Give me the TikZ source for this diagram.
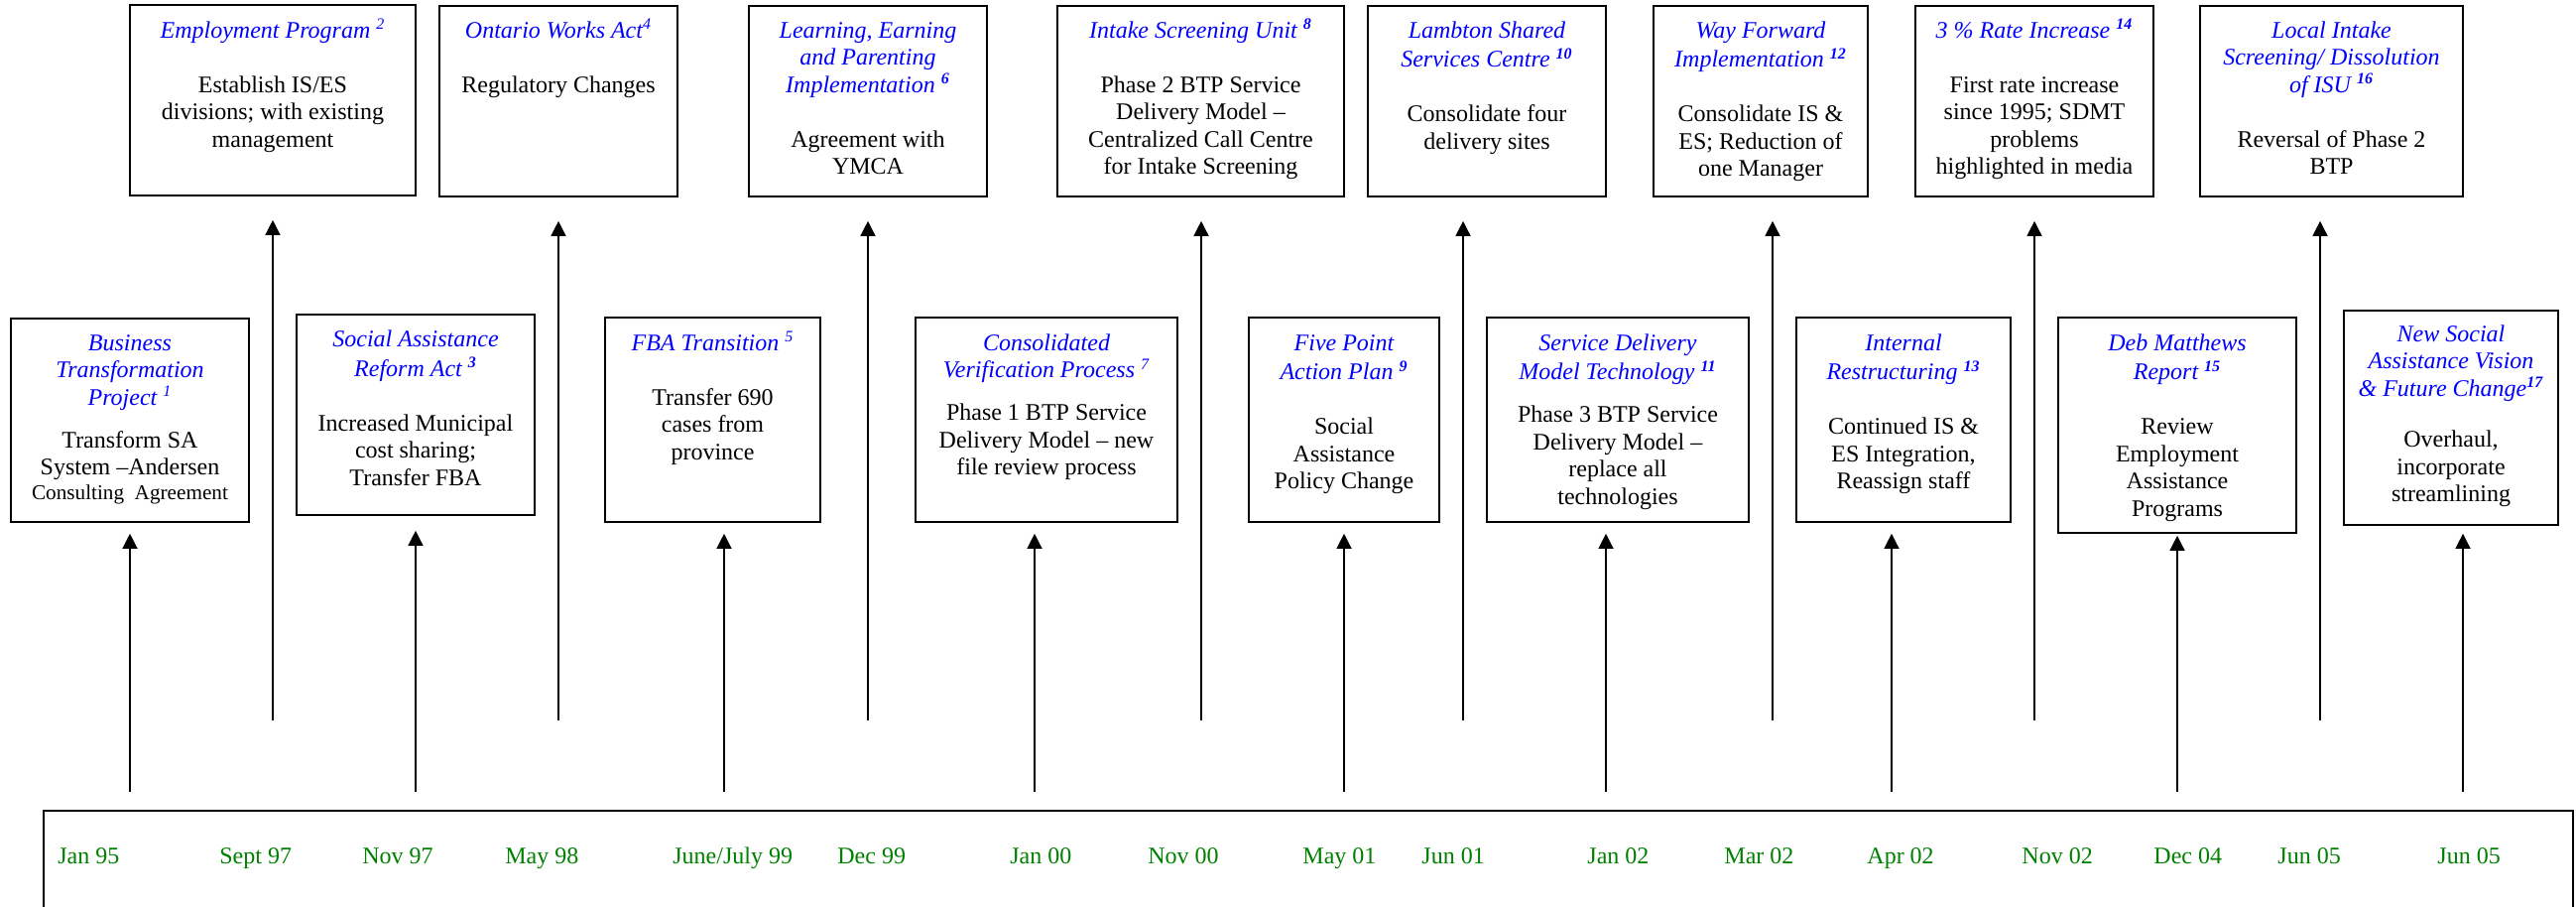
\documentclass[tikz,border=0pt]{standalone}
\usepackage{fontspec}
\setmainfont{Liberation Serif}
\usetikzlibrary{arrows.meta,fit}
\definecolor{ttlblue}{RGB}{0,0,255}
\definecolor{dategreen}{RGB}{0,128,0}
\newcommand\fnn[1]{\textsuperscript{#1}}
\newcommand\fnbb[1]{\textsuperscript{\bfseries #1}}
\newcommand\tl[1]{{\color{ttlblue}\itshape #1}}
\begin{document}
\begin{tikzpicture}[x=0.5pt,y=-0.5pt,
  evbox/.style={draw, line width=0.8pt, inner sep=0pt},
  txt/.style={anchor=north, align=center, inner sep=0pt, font=\fontsize{12}{13.75}\selectfont},
  arr/.style={line width=0.65pt, -{Triangle[length=7.5pt,width=7.5pt]}},
  datelbl/.style={anchor=base west, inner sep=0pt, text=dategreen, font=\fontsize{12}{13.75}\selectfont}]
\useasboundingbox (0,0) rectangle (2597,914);

% ---------- upper boxes ----------
\node[evbox, fit={(131,5) (419,197)}] (u1) {};
\node[evbox, fit={(443,6) (683,198)}] (u2) {};
\node[evbox, fit={(755,6) (995,198)}] (u3) {};
\node[evbox, fit={(1066,6) (1355,198)}] (u4) {};
\node[evbox, fit={(1379,6) (1619,198)}] (u5) {};
\node[evbox, fit={(1667,6) (1883,198)}] (u6) {};
\node[evbox, fit={(1931,6) (2171,198)}] (u7) {};
\node[evbox, fit={(2218,6) (2483,198)}] (u8) {};

\node[txt] (u1t) at (275,18.75) {\strut\tl{Employment Program \fnn{2}}\\[13.75pt]Establish IS/ES\\divisions; with existing\\management};
\node[txt] (u2t) at (563,18.75) {\strut\tl{Ontario Works Act\fnn{4}}\\[13.75pt]Regulatory Changes};
\node[txt] (u3t) at (875,18.75) {\strut\tl{Learning, Earning}\\\tl{and Parenting}\\\tl{Implementation \fnbb{6}}\\[13.75pt]Agreement with\\YMCA};
\node[txt] (u4t) at (1210.5,18.75) {\strut\tl{Intake Screening Unit \fnbb{8}}\\[13.75pt]Phase 2 BTP Service\\Delivery Model --\\Centralized Call Centre\\for Intake Screening};
\node[txt] (u5t) at (1499,18.75) {\strut\tl{Lambton Shared}\\\tl{Services Centre \fnbb{10}}\\[13.75pt]Consolidate four\\delivery sites};
\node[txt] (u6t) at (1775,18.75) {\strut\tl{Way Forward}\\\tl{Implementation \fnbb{12}}\\[13.75pt]Consolidate IS \&\\ES; Reduction of\\one Manager};
\node[txt] (u7t) at (2051,18.75) {\strut\tl{3 \% Rate Increase \fnbb{14}}\\[13.75pt]First rate increase\\since 1995; SDMT\\problems\\highlighted in media};
\node[txt] (u8t) at (2350.5,18.75) {\strut\tl{Local Intake}\\\tl{Screening/ Dissolution}\\\tl{of ISU \fnbb{16}}\\[13.75pt]Reversal of Phase 2\\BTP};

% ---------- lower boxes ----------
\node[evbox, fit={(11,321) (251,526)}] (l1) {};
\node[evbox, fit={(299,317) (539,519)}] (l2) {};
\node[evbox, fit={(610,320) (827,526)}] (l3) {};
\node[evbox, fit={(923,320) (1187,526)}] (l4) {};
\node[evbox, fit={(1259,320) (1451,526)}] (l5) {};
\node[evbox, fit={(1499,320) (1763,526)}] (l6) {};
\node[evbox, fit={(1811,320) (2027,526)}] (l7) {};
\node[evbox, fit={(2075,320) (2315,537)}] (l8) {};
\node[evbox, fit={(2363,313) (2579,529)}] (l9) {};

\node[txt] (l1t) at (131,333.75) {\strut\tl{Business}\\\tl{Transformation}\\\tl{Project \fnn{1}}\\[7.75pt]Transform SA\\System --Andersen\\[-1.25pt]{\fontsize{10.6}{12}\selectfont Consulting\ \ Agreement}};
\node[txt] (l2t) at (419,330.25) {\strut\tl{Social Assistance}\\\tl{Reform Act \fnbb{3}}\\[13.75pt]Increased Municipal\\cost sharing;\\Transfer FBA};
\node[txt] (l3t) at (718.5,333.75) {\strut\tl{FBA Transition \fnn{5}}\\[13.75pt]Transfer 690\\cases from\\province};
\node[txt] (l4t) at (1055,333.75) {\strut\tl{Consolidated}\\\tl{Verification Process \fnn{7}}\\[7.75pt]Phase 1 BTP Service\\Delivery Model -- new\\file review process};
\node[txt] (l5t) at (1355,333.75) {\strut\tl{Five Point}\\\tl{Action Plan \fnbb{9}}\\[13.75pt]Social\\Assistance\\Policy Change};
\node[txt] (l6t) at (1631,333.75) {\strut\tl{Service Delivery}\\\tl{Model Technology \fnbb{11}}\\[7.75pt]Phase 3 BTP Service\\Delivery Model --\\replace all\\technologies};
\node[txt] (l7t) at (1919,333.75) {\strut\tl{Internal}\\\tl{Restructuring \fnbb{13}}\\[13.75pt]Continued IS \&\\ES Integration,\\Reassign staff};
\node[txt] (l8t) at (2195,333.75) {\strut\tl{Deb Matthews}\\\tl{Report \fnbb{15}}\\[13.75pt]Review\\Employment\\Assistance\\Programs};
\node[txt] (l9t) at (2471,324.75) {\strut\tl{New Social}\\\tl{Assistance Vision}\\\tl{\& Future Change\fnbb{17}}\\[12pt]Overhaul,\\incorporate\\streamlining};

% ---------- timeline ----------
\draw[line width=1pt] (44,914) -- (44,817) -- (2594,817) -- (2594,914);
\node[datelbl] (d1) at (58,870) {Jan 95};
\node[datelbl] (d2) at (221,870) {Sept 97};
\node[datelbl] (d3) at (365,870) {Nov 97};
\node[datelbl] (d4) at (509,870) {May 98};
\node[datelbl] (d5) at (678,870) {June/July 99};
\node[datelbl] (d6) at (844,870) {Dec 99};
\node[datelbl] (d7) at (1018,870) {Jan 00};
\node[datelbl] (d8) at (1157,870) {Nov 00};
\node[datelbl] (d9) at (1313,870) {May 01};
\node[datelbl] (d10) at (1433,870) {Jun 01};
\node[datelbl] (d11) at (1600,870) {Jan 02};
\node[datelbl] (d12) at (1738,870) {Mar 02};
\node[datelbl] (d13) at (1882,870) {Apr 02};
\node[datelbl] (d14) at (2038,870) {Nov 02};
\node[datelbl] (d15) at (2171,870) {Dec 04};
\node[datelbl] (d16) at (2296,870) {Jun 05};
\node[datelbl] (d17) at (2457,870) {Jun 05};

% ---------- arrow start points ----------
\coordinate (a1) at (131,798);
\coordinate (a2) at (275,726);
\coordinate (a3) at (419,798);
\coordinate (a4) at (563,726);
\coordinate (a5) at (730,798);
\coordinate (a6) at (875,726);
\coordinate (a7) at (1043,798);
\coordinate (a8) at (1211,726);
\coordinate (a9) at (1355,798);
\coordinate (a10) at (1475,726);
\coordinate (a11) at (1619,798);
\coordinate (a12) at (1787,726);
\coordinate (a13) at (1907,798);
\coordinate (a14) at (2051,726);
\coordinate (a15) at (2195,798);
\coordinate (a16) at (2339,726);
\coordinate (a17) at (2483,798);

% ---------- arrows ----------
\draw[arr, shorten >=5.5pt] (a1) -- (a1 |- l1.south);
\draw[arr, shorten >=12pt] (a2) -- (a2 |- u1.south);
\draw[arr, shorten >=7.5pt] (a3) -- (a3 |- l2.south);
\draw[arr, shorten >=12pt] (a4) -- (a4 |- u2.south);
\draw[arr, shorten >=5.5pt] (a5) -- (a5 |- l3.south);
\draw[arr, shorten >=12pt] (a6) -- (a6 |- u3.south);
\draw[arr, shorten >=5.5pt] (a7) -- (a7 |- l4.south);
\draw[arr, shorten >=12pt] (a8) -- (a8 |- u4.south);
\draw[arr, shorten >=5.5pt] (a9) -- (a9 |- l5.south);
\draw[arr, shorten >=12pt] (a10) -- (a10 |- u5.south);
\draw[arr, shorten >=5.5pt] (a11) -- (a11 |- l6.south);
\draw[arr, shorten >=12pt] (a12) -- (a12 |- u6.south);
\draw[arr, shorten >=5.5pt] (a13) -- (a13 |- l7.south);
\draw[arr, shorten >=12pt] (a14) -- (a14 |- u7.south);
\draw[arr, shorten >=1pt] (a15) -- (a15 |- l8.south);
\draw[arr, shorten >=12pt] (a16) -- (a16 |- u8.south);
\draw[arr, shorten >=4pt] (a17) -- (a17 |- l9.south);
\end{tikzpicture}
\end{document}
